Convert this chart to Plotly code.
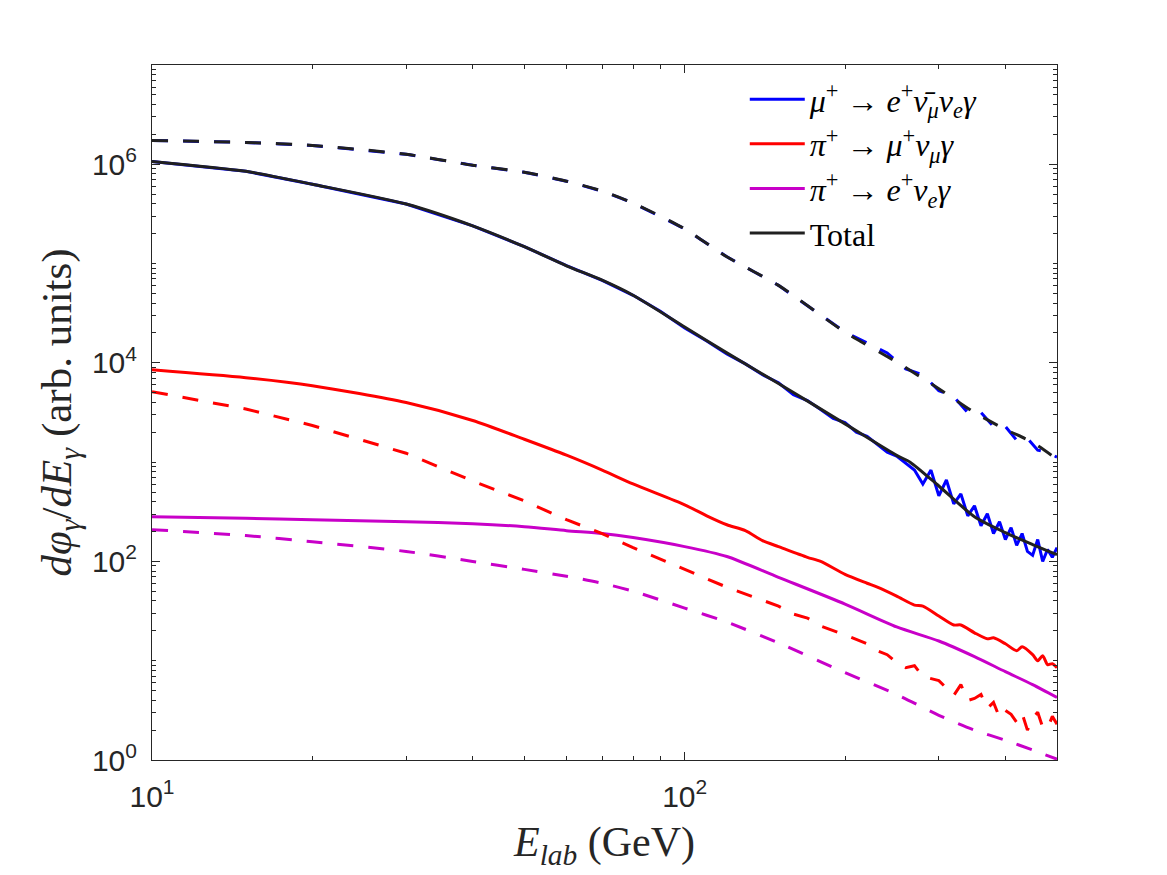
import plotly.graph_objects as go

# ---------------- data ----------------
E_smooth = [10, 15, 20, 30, 40, 50, 60, 70, 80, 100, 120, 150, 200, 250, 300, 350, 400, 450, 500]

# Total (solid)
E_total = [10, 15, 20, 30, 40, 50, 60, 70, 80, 100, 120, 150, 200, 250, 265, 300, 350, 400, 450, 500]
total_solid = [1.07e6, 8.5e5, 6.3e5, 3.98e5, 2.4e5, 1.48e5, 9.5e4, 6.8e4, 4.8e4, 2.3e4, 1.26e4,
               6.2e3, 2.43e3, 1.17e3, 1.0e3, 575, 282, 195, 148, 117]

# Total (dashed)
total_dashed = [1.74e6, 1.66e6, 1.55e6, 1.26e6, 9.77e5, 8.32e5, 6.76e5, 5.37e5, 4.07e5, 2.24e5,
                1.17e5, 6.03e4, 2.04e4, 1.02e4, 5.5e3, 3.16e3, 2.14e3, 1.58e3, 1.07e3]

# mu+ -> e+ nubar_mu nu_e gamma (solid)
E_mu = [10, 15, 20, 30, 40, 50, 60, 70, 80, 90, 100, 110, 120, 130, 140, 150, 160, 170, 180, 190,
        200, 210, 220, 230, 240, 250, 260, 270, 280, 290, 300, 310, 320, 330, 340, 350, 360, 370,
        380, 390, 400, 410, 420, 430, 440, 450, 460, 470, 480, 490, 500]
mu_solid = [1.07e6, 8.5e5, 6.3e5, 3.98e5, 2.4e5, 1.48e5, 9.55e4, 6.76e4, 4.79e4, 3.31e4, 2.24e4,
            1.66e4, 1.23e4, 9.77e3, 7.59e3, 6.31e3, 4.79e3, 4.17e3, 3.39e3, 2.75e3, 2.51e3, 2.0e3,
            1.82e3, 1.51e3, 1.26e3, 1.15e3, 977, 832, 603, 832, 457, 661, 380, 479, 288, 363, 229,
            302, 191, 251, 166, 219, 145, 191, 126, 115, 166, 100, 132, 110, 138]

# mu+ (dashed)
E_mu_d = [10, 15, 20, 30, 40, 50, 60, 70, 80, 100, 120, 150, 200, 220, 240, 260, 280, 300, 320,
          340, 360, 380, 400, 420, 440, 460, 480, 500]
mu_dashed = [1.74e6, 1.66e6, 1.55e6, 1.26e6, 9.77e5, 8.32e5, 6.76e5, 5.37e5, 4.07e5, 2.24e5,
             1.17e5, 6.03e4, 2.04e4, 1.58e4, 1.26e4, 8.71e3, 7.59e3, 5.25e3, 4.57e3, 3.16e3,
             3.16e3, 2.29e3, 2.29e3, 1.66e3, 1.74e3, 1.32e3, 1.26e3, 1.12e3]

# pi+ -> mu+ nu_mu gamma (solid)
E_pimu = [10, 15, 20, 30, 40, 50, 60, 70, 80, 100, 110, 120, 130, 140, 150, 170, 180, 200, 220,
          230, 250, 270, 280, 300, 320, 330, 350, 370, 380, 400, 420, 430, 450, 460, 470, 480,
          490, 500]
pimu_solid = [8510, 7080, 5890, 3980, 2630, 1700, 1175, 832, 603, 372, 288, 234, 204, 162, 141,
              110, 100, 74.1, 60.3, 55.0, 44.7, 36.3, 35.5, 28.2, 22.9, 22.9, 19.1, 16.6, 17.0,
              14.8, 12.6, 13.8, 11.5, 10.0, 11.2, 9.12, 9.33, 8.51]

# pi+ -> mu+ (dashed)
E_pimu_d = [10, 15, 20, 30, 40, 50, 60, 70, 80, 100, 120, 150, 160, 170, 180, 200, 220, 230,
            240, 250, 260, 270, 280, 300, 320, 330, 340, 350, 360, 370, 380, 390, 400, 410, 420,
            430, 440, 450, 460, 470, 480, 490, 500]
pimu_dashed = [5130, 3430, 2340, 1230, 646, 407, 263, 191, 138, 83.2, 55.0, 35.5, 29.5, 26.9,
               22.4, 18.2, 14.8, 12.6, 11.5, 9.55, 8.51, 8.91, 6.92, 6.31, 4.47, 5.75, 3.98,
               4.17, 4.57, 3.31, 3.80, 2.69, 3.16, 2.88, 2.40, 2.95, 2.00, 2.63, 3.02, 2.14,
               2.09, 2.75, 2.29]

# pi+ -> e+ nu_e gamma (solid / dashed)
pie_solid = [282, 272, 263, 251, 240, 224, 204, 191, 174, 141, 112, 69.2, 37.2, 21.9, 15.8,
             11.0, 7.76, 5.75, 4.27]
pie_dashed = [209, 182, 158, 126, 100, 83.2, 70.8, 60.3, 50.1, 33.9, 24.5, 15.1, 7.59, 4.57,
              2.82, 2.0, 1.58, 1.26, 1.02]

labels = [
    "<i>μ</i><sup>+</sup> → <i>e</i><sup>+</sup><i>ν\u0304</i><sub><i>μ</i></sub><i>ν</i><sub><i>e</i></sub><i>γ</i>",
    "<i>π</i><sup>+</sup> → <i>μ</i><sup>+</sup><i>ν</i><sub><i>μ</i></sub><i>γ</i>",
    "<i>π</i><sup>+</sup> → <i>e</i><sup>+</sup><i>ν</i><sub><i>e</i></sub><i>γ</i>",
    "Total",
]

x_major = [10, 100]
x_major_text = ["10<sup>1</sup>", "10<sup>2</sup>"]
x_minor = [20, 30, 40, 50, 60, 70, 80, 90, 200, 300, 400, 500]
y_major = [1, 100, 1e4, 1e6]
y_major_text = ["10<sup>0</sup>", "10<sup>2</sup>", "10<sup>4</sup>", "10<sup>6</sup>"]
y_minor = [m * 10 ** k for k in range(0, 7) for m in range(2, 10)] + [10, 1e3, 1e5, 1e7]

# ---------------- styling ----------------
BLUE = "#0000FF"
RED = "#FF0000"
MAG = "#C800C8"
BLACK = "#202020"
AX = "#262626"
LW = 3
DASH = "16px,15px"
SERIF = "Liberation Serif, DejaVu Serif, serif"
SANS = "Liberation Sans, Arial, sans-serif"
SM = dict(shape="spline", smoothing=0.7)

fig = go.Figure()
fig.add_trace(go.Scatter(x=E_mu, y=mu_solid, mode="lines", name=labels[0],
                         line=dict(color=BLUE, width=LW)))
fig.add_trace(go.Scatter(x=E_pimu, y=pimu_solid, mode="lines", name=labels[1],
                         line=dict(color=RED, width=LW, **SM)))
fig.add_trace(go.Scatter(x=E_smooth, y=pie_solid, mode="lines", name=labels[2],
                         line=dict(color=MAG, width=LW, **SM)))
fig.add_trace(go.Scatter(x=E_total, y=total_solid, mode="lines", name=labels[3],
                         line=dict(color=BLACK, width=LW, **SM)))
fig.add_trace(go.Scatter(x=E_mu_d, y=mu_dashed, mode="lines", showlegend=False,
                         line=dict(color=BLUE, width=LW, dash=DASH)))
fig.add_trace(go.Scatter(x=E_pimu_d, y=pimu_dashed, mode="lines", showlegend=False,
                         line=dict(color=RED, width=LW, dash=DASH)))
fig.add_trace(go.Scatter(x=E_smooth, y=pie_dashed, mode="lines", showlegend=False,
                         line=dict(color=MAG, width=LW, dash=DASH, **SM)))
fig.add_trace(go.Scatter(x=E_smooth, y=total_dashed, mode="lines", showlegend=False,
                         line=dict(color=BLACK, width=LW, dash=DASH, **SM)))

axis_common = dict(
    showline=True, linecolor=AX, linewidth=1, mirror="allticks",
    ticks="inside", ticklen=8, tickcolor=AX, tickwidth=1,
    showgrid=False, zeroline=False,
    tickfont=dict(family=SANS, size=30, color=AX),
)

fig.update_xaxes(
    type="log", range=[1, 2.69897],
    tickmode="array", tickvals=x_major, ticktext=x_major_text,
    minor=dict(tickmode="array", tickvals=x_minor, ticks="inside", ticklen=4,
               tickcolor=AX, tickwidth=1, showgrid=False),
    title=dict(text="<i>E</i><sub><i>lab</i></sub> (GeV)",
               font=dict(family=SERIF, size=42, color=AX), standoff=14),
    ticklabelstandoff=10,
    **axis_common,
)
fig.update_yaxes(
    type="log", range=[0, 7],
    tickmode="array", tickvals=y_major, ticktext=y_major_text,
    minor=dict(tickmode="array", tickvals=y_minor, ticks="inside", ticklen=4,
               tickcolor=AX, tickwidth=1, showgrid=False),
    title=dict(text="<i>dφ</i><sub><i>γ</i></sub>/<i>dE</i><sub><i>γ</i></sub> (arb. units)",
               font=dict(family=SERIF, size=43, color=AX), standoff=6),
    ticklabelstandoff=8,
    **axis_common,
)

fig.update_layout(
    width=1167, height=875,
    margin=dict(l=152, r=110, t=65, b=115),
    paper_bgcolor="white", plot_bgcolor="white",
    legend=dict(x=0.655, y=0.99, xanchor="left", yanchor="top",
                bgcolor="rgba(255,255,255,0)", borderwidth=0,
                font=dict(family=SERIF, size=32, color="#000000"),
                itemwidth=55, tracegroupgap=0),
)

fig.write_html("out.html")
